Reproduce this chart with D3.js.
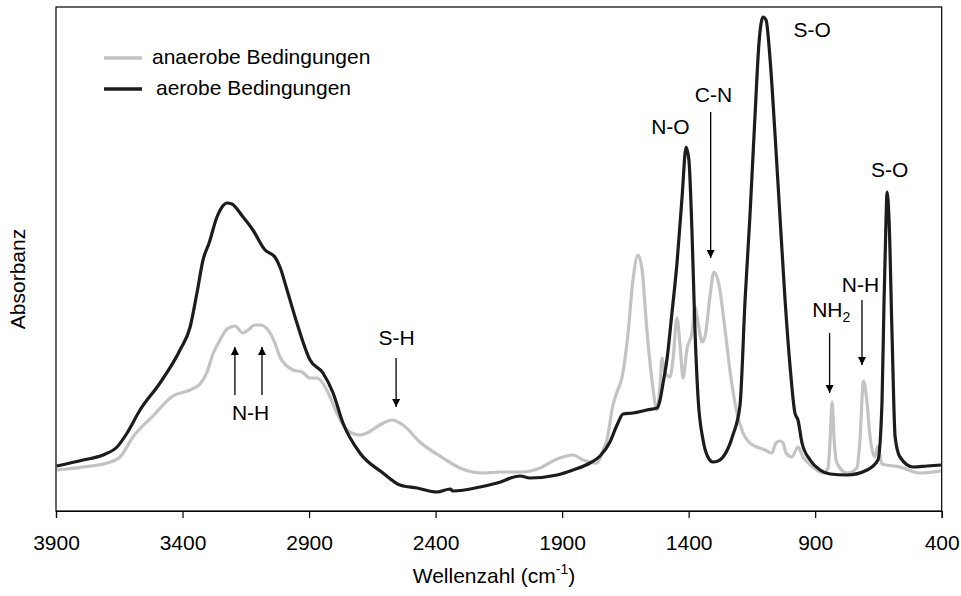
<!DOCTYPE html>
<html>
<head>
<meta charset="utf-8">
<script src="https://cdn.jsdelivr.net/npm/d3@7"></script>
<style>
  body { margin: 0; background: #fff; }
  svg { font-family: "Liberation Sans", Arial, sans-serif; }
</style>
</head>
<body>
<svg id="chart" width="961" height="596"></svg>
<script>
// Wellenzahl (cm-1) and absorbance (arbitrary units)
const waveAerob = [3897, 3793, 3714, 3659, 3619, 3568, 3489, 3410, 3370, 3343, 3319, 3295, 3264, 3244, 3224, 3205,
    3161, 3122, 3074, 3035, 3015, 2987, 2948, 2896, 2845, 2805, 2766, 2699, 2608, 2541, 2473, 2394, 2343, 2331,
    2224, 2157, 2066, 2027, 1920, 1857, 1790, 1750, 1711, 1683, 1659, 1620, 1565, 1525, 1513, 1501, 1486, 1466,
    1446, 1426, 1410, 1399, 1387, 1375, 1363, 1343, 1324, 1304, 1284, 1264, 1225, 1197, 1177, 1158, 1138, 1122,
    1106, 1094, 1078, 1059, 1039, 1019, 999, 980, 968, 952, 920, 881, 841, 774, 695, 652, 636, 628, 620, 616,
    608, 596, 584, 565, 513, 458, 403];
const absAerob = [9.0, 10.2, 11.2, 12.8, 15.6, 20.2, 25.6, 32.2, 36.8, 43.6, 50.2, 53.6, 58.8, 60.8, 61.6, 61.4,
    58.8, 56.2, 52.2, 50.8, 48.8, 44.2, 37.6, 30.2, 27.6, 23.6, 17.6, 11.6, 7.6, 5.2, 4.6, 3.8, 4.4, 4.0,
    4.8, 5.6, 7.0, 6.6, 7.2, 8.2, 9.6, 11.0, 13.8, 17.2, 19.4, 19.6, 20.2, 20.6, 22.2, 25.6, 30.2, 39.6,
    49.6, 62.8, 72.8, 70.2, 56.2, 36.2, 22.8, 14.2, 10.8, 9.8, 10.0, 10.8, 15.2, 21.2, 42.2, 58.8, 78.8, 93.6,
    98.8, 98.2, 90.2, 75.6, 58.8, 42.2, 28.8, 19.6, 18.2, 13.6, 10.2, 8.2, 7.4, 7.2, 8.2, 10.2, 21.6, 41.6, 58.2, 63.8,
    58.2, 34.8, 14.8, 10.8, 8.8, 9.0, 9.2];

const waveAnaerob = [3897, 3793, 3698, 3647, 3596, 3517, 3438, 3370, 3331, 3303, 3280, 3252, 3224, 3193, 3161, 3141,
    3114, 3094, 3062, 3035, 3015, 2963, 2928, 2896, 2869, 2849, 2817, 2790, 2750, 2699, 2671, 2620, 2572, 2529,
    2462, 2371, 2304, 2213, 2145, 2055, 1987, 1920, 1857, 1817, 1762, 1738, 1723, 1699, 1683, 1663, 1640, 1620,
    1600, 1584, 1565, 1545, 1525, 1513, 1505, 1493, 1474, 1462, 1446, 1434, 1422, 1406, 1387, 1375, 1363, 1347,
    1335, 1316, 1300, 1280, 1256, 1237, 1209, 1185, 1158, 1130, 1098, 1071, 1055, 1039, 1027, 1015, 992, 968,
    948, 909, 869, 849, 841, 833, 825, 814, 774, 735, 723, 709, 695, 683, 664, 652, 636, 565, 486, 403];
const absAnaerob = [8.2, 8.8, 9.6, 10.8, 14.8, 19.0, 23.0, 24.2, 25.4, 27.8, 31.4, 34.2, 36.4, 37.0, 35.6, 36.2,
    37.2, 37.2, 36.2, 33.6, 30.8, 28.2, 27.8, 26.6, 26.6, 25.8, 22.8, 19.6, 16.2, 15.2, 15.6, 17.2, 18.2, 17.2,
    13.8, 10.6, 8.6, 7.6, 7.8, 7.8, 8.6, 10.4, 11.2, 10.2, 9.6, 12.2, 14.2, 21.2, 23.8, 26.8, 35.2, 46.2,
    51.2, 48.2, 36.2, 26.2, 20.2, 25.2, 30.6, 27.6, 26.8, 30.2, 38.6, 33.2, 26.6, 32.6, 35.6, 40.8, 37.8, 33.8,
    35.0, 42.8, 47.8, 45.2, 36.2, 28.2, 19.6, 15.6, 13.6, 12.8, 12.2, 11.6, 13.6, 14.0, 13.6, 11.6, 10.8, 12.8,
    10.8, 8.8, 7.6, 8.6, 14.2, 21.8, 14.2, 9.6, 7.6, 8.6, 14.2, 26.0, 21.6, 14.8, 10.8, 13.0, 9.4, 8.8, 7.6, 8.0];

const xTicks = [3900, 3400, 2900, 2400, 1900, 1400, 900, 400];

// band labels: text, wavenumber, absorbance of baseline; arrows from/to absorbance
const bandLabels = [
    { text: 'S-O', w: 912, a: 94.8 },
    { text: 'C-N', w: 1302, a: 81.8 },
    { text: 'N-O', w: 1472, a: 75.4 },
    { text: 'S-O', w: 606, a: 66.8 },
    { text: 'N-H', w: 721, a: 43.8 },
    { text: 'S-H', w: 2554, a: 33.2 },
    { text: 'N-H', w: 3131, a: 18.2 }
];
const bandArrows = [
    { w: 1313, from: 79.8, to: 50.6 },
    { w: 715, from: 42.2, to: 29.2 },
    { w: 843, from: 35.6, to: 23.6 },
    { w: 2556, from: 30.6, to: 20.8 },
    { w: 3193, from: 23.2, to: 32.8 },
    { w: 3086, from: 23.2, to: 32.8 }
];

const svg = d3.select('#chart');
const plotLeft = 56, plotRight = 941.7, plotTop = 7, plotBottom = 511;

const x = d3.scaleLinear().domain([3900, 400]).range([plotLeft, plotRight]);
const y = d3.scaleLinear().domain([0, 100.8]).range([plotBottom, plotTop]);

// arrow head
svg.append('defs').append('marker')
    .attr('id', 'head')
    .attr('markerUnits', 'userSpaceOnUse')
    .attr('viewBox', '0 0 10 10')
    .attr('refX', 10).attr('refY', 5)
    .attr('markerWidth', 9).attr('markerHeight', 8)
    .attr('orient', 'auto')
    .append('path')
    .attr('d', 'M0,0L10,5L0,10Z')
    .attr('fill', '#000');

const line = d3.line()
    .x(d => x(d[0]))
    .y(d => y(d[1]))
    .curve(d3.curveMonotoneX);

svg.append('path')
    .datum(waveAnaerob.map((w, i) => [w, absAnaerob[i]]))
    .attr('d', line)
    .attr('fill', 'none')
    .attr('stroke', '#c3c3c3')
    .attr('stroke-width', 3.2)
    .attr('stroke-linejoin', 'round');

svg.append('path')
    .datum(waveAerob.map((w, i) => [w, absAerob[i]]))
    .attr('d', line)
    .attr('fill', 'none')
    .attr('stroke', '#1c1c1c')
    .attr('stroke-width', 3.2)
    .attr('stroke-linejoin', 'round');

// frame
svg.append('rect')
    .attr('x', plotLeft).attr('y', plotTop)
    .attr('width', plotRight - plotLeft).attr('height', plotBottom - plotTop)
    .attr('fill', 'none')
    .attr('stroke', '#000')
    .attr('stroke-width', 1.2);

const xAxis = svg.append('g')
    .attr('transform', `translate(0,${plotBottom})`)
    .call(d3.axisBottom(x).tickValues(xTicks).tickSize(7).tickPadding(17).tickFormat(d3.format('d')));
xAxis.select('.domain').attr('stroke', '#000').attr('stroke-width', 1.2);
xAxis.selectAll('.tick line').attr('stroke', '#000').attr('stroke-width', 1.2);
xAxis.selectAll('text').attr('font-size', 21).attr('fill', '#000')
    .attr('font-family', '"Liberation Sans", Arial, sans-serif');

// axis titles
const xTitle = svg.append('text')
    .attr('x', 494).attr('y', 583)
    .attr('text-anchor', 'middle')
    .attr('font-size', 21);
xTitle.append('tspan').text('Wellenzahl (cm');
xTitle.append('tspan').text('-1').attr('font-size', 14).attr('dy', -9);
xTitle.append('tspan').text(')').attr('dy', 9);

svg.append('text')
    .attr('transform', 'translate(25,279) rotate(-90)')
    .attr('text-anchor', 'middle')
    .attr('font-size', 21)
    .text('Absorbanz');

// band annotations
svg.selectAll('.band')
    .data(bandLabels)
    .enter()
    .append('text')
    .attr('class', 'band')
    .attr('x', d => x(d.w))
    .attr('y', d => y(d.a))
    .attr('text-anchor', 'middle')
    .attr('font-size', 21)
    .text(d => d.text);

const nh2 = svg.append('text')
    .attr('x', x(912)).attr('y', y(38.8))
    .attr('font-size', 21);
nh2.append('tspan').text('NH');
nh2.append('tspan').text('2').attr('font-size', 14).attr('dy', 5);

svg.selectAll('.arrow')
    .data(bandArrows)
    .enter()
    .append('line')
    .attr('class', 'arrow')
    .attr('x1', d => x(d.w)).attr('x2', d => x(d.w))
    .attr('y1', d => y(d.from)).attr('y2', d => y(d.to))
    .attr('stroke', '#000')
    .attr('stroke-width', 1.3)
    .attr('marker-end', 'url(#head)');

// legend
const legend = [
    { label: 'anaerobe Bedingungen', color: '#c3c3c3', ly: 58, tx: 152 },
    { label: 'aerobe Bedingungen', color: '#1c1c1c', ly: 89, tx: 156 }
];
legend.forEach(l => {
    svg.append('line')
        .attr('x1', 104).attr('x2', 142)
        .attr('y1', l.ly).attr('y2', l.ly)
        .attr('stroke', l.color)
        .attr('stroke-width', 3.5);
    svg.append('text')
        .attr('x', l.tx).attr('y', l.ly + 6)
        .attr('font-size', 21)
        .text(l.label);
});
</script>
</body>
</html>
